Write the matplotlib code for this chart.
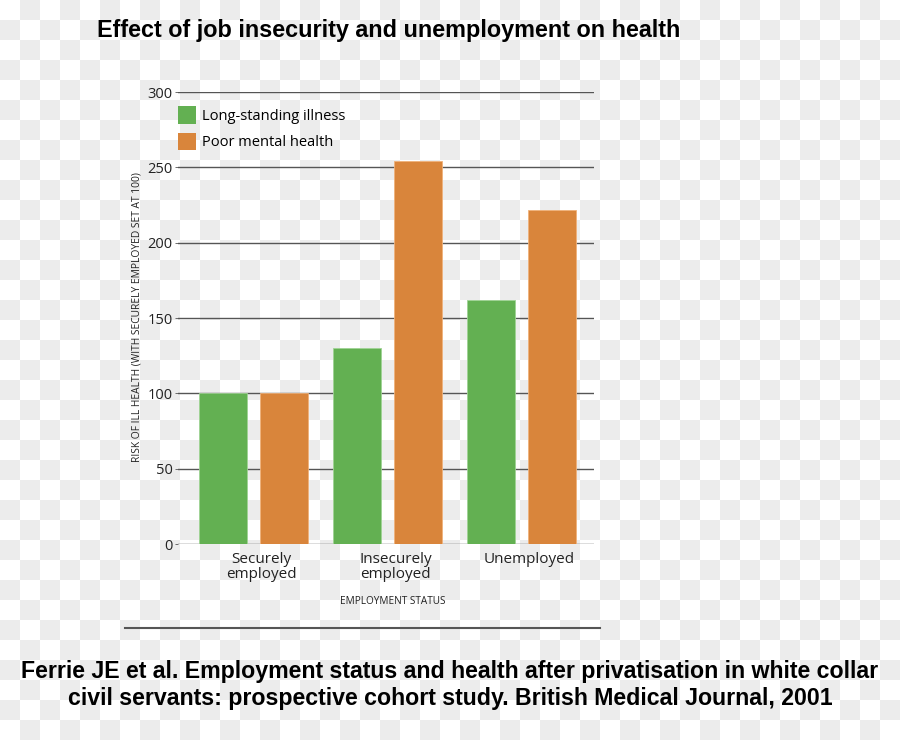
import numpy as np
import matplotlib
matplotlib.use("Agg")
import matplotlib.pyplot as plt
import matplotlib.transforms as mtransforms
from matplotlib.patches import Patch

# data
groups = ["Securely\nemployed", "Insecurely\nemployed", "Unemployed"]
long_standing = [100, 130, 162]
poor_mental = [100, 254, 222]
yticks = [0, 50, 100, 150, 200, 250, 300]

green = "#63b052"
orange = "#d9853b"

fig = plt.figure(figsize=(9, 7.4), dpi=100)

# checkerboard background (transparency pattern in the reference)
bg = fig.add_axes([0, 0, 1, 1], zorder=-10)
checker = (np.indices((37, 45)).sum(axis=0) % 2).astype(float)
bg.imshow(checker, cmap=matplotlib.colors.ListedColormap(["white", "#ececec"]),
          extent=[0, 900, 740, 0], interpolation="nearest", aspect="auto")
bg.set_xlim(0, 900)
bg.set_ylim(740, 0)
bg.axis("off")

ax = fig.add_axes([178 / 900, 1 - 544 / 740, (594 - 178) / 900, (544 - 92) / 740])
ax.patch.set_alpha(0)

x = np.arange(len(groups))
w = 0.358
off = 0.228
ax.bar(x - off, long_standing, w, color=green, edgecolor="#9fd394", linewidth=0.6, zorder=3,
       label="Long-standing illness")
ax.bar(x + off, poor_mental, w, color=orange, edgecolor="#f0b27a", linewidth=0.6, zorder=3,
       label="Poor mental health")

ax.set_xlim(-0.563, 2.541)
ax.set_ylim(0, 300)
ax.set_yticks(yticks)
ax.grid(axis="y", color="#555555", linewidth=1.0, zorder=1)
for s in ["top", "right", "left", "bottom"]:
    ax.spines[s].set_visible(False)
ax.tick_params(axis="y", length=2, width=0.6, color="#555555", pad=2,
               labelsize=10.5, labelcolor="#222222")
ax.tick_params(axis="x", length=0, pad=6, labelsize=11, labelcolor="#222222")
for lab in ax.get_yticklabels():
    lab.set_fontfamily("Open Sans")
ax.set_xticks(x)
ax.set_xticklabels(groups, fontfamily="Open Sans", linespacing=1.0)
shift = mtransforms.ScaledTranslation(8 / 100, 0, fig.dpi_scale_trans)
for lab in ax.get_xticklabels():
    lab.set_transform(lab.get_transform() + shift)

ax.legend(handles=[Patch(facecolor=green, label="Long-standing illness"),
                   Patch(facecolor=orange, label="Poor mental health")],
          loc="upper left", bbox_to_anchor=(-0.032, 0.997), frameon=False,
          handlelength=1.25, handleheight=1.45, handletextpad=0.4, labelspacing=0.6,
          prop={"family": "Open Sans", "size": 10.5})

fig.text(137 / 900, 1 - 317 / 740, "RISK OF ILL HEALTH (WITH SECURELY EMPLOYED SET AT 100)",
         rotation=90, ha="center", va="center", fontsize=7.4, family="Open Sans", color="#222222")
fig.text(393 / 900, 1 - 601 / 740, "EMPLOYMENT STATUS", ha="center", va="center",
         fontsize=7.2, family="Open Sans", color="#222222")

fig.add_artist(plt.Line2D([125 / 900, 600 / 900], [1 - 628 / 740, 1 - 628 / 740],
                          color="#555555", linewidth=1.5))

fig.text(97 / 900, 1 - 30 / 740, "Effect of job insecurity and unemployment on health",
         ha="left", va="center", fontsize=16.8, fontweight="bold", family="Liberation Sans")
fig.text(450 / 900, 1 - 685 / 740,
         "Ferrie JE et al. Employment status and health after privatisation in white collar\n"
         "civil servants: prospective cohort study. British Medical Journal, 2001",
         ha="center", va="center", fontsize=16.7, fontweight="bold", family="Liberation Sans",
         linespacing=1.18)

fig.savefig("out.png", dpi=100)
